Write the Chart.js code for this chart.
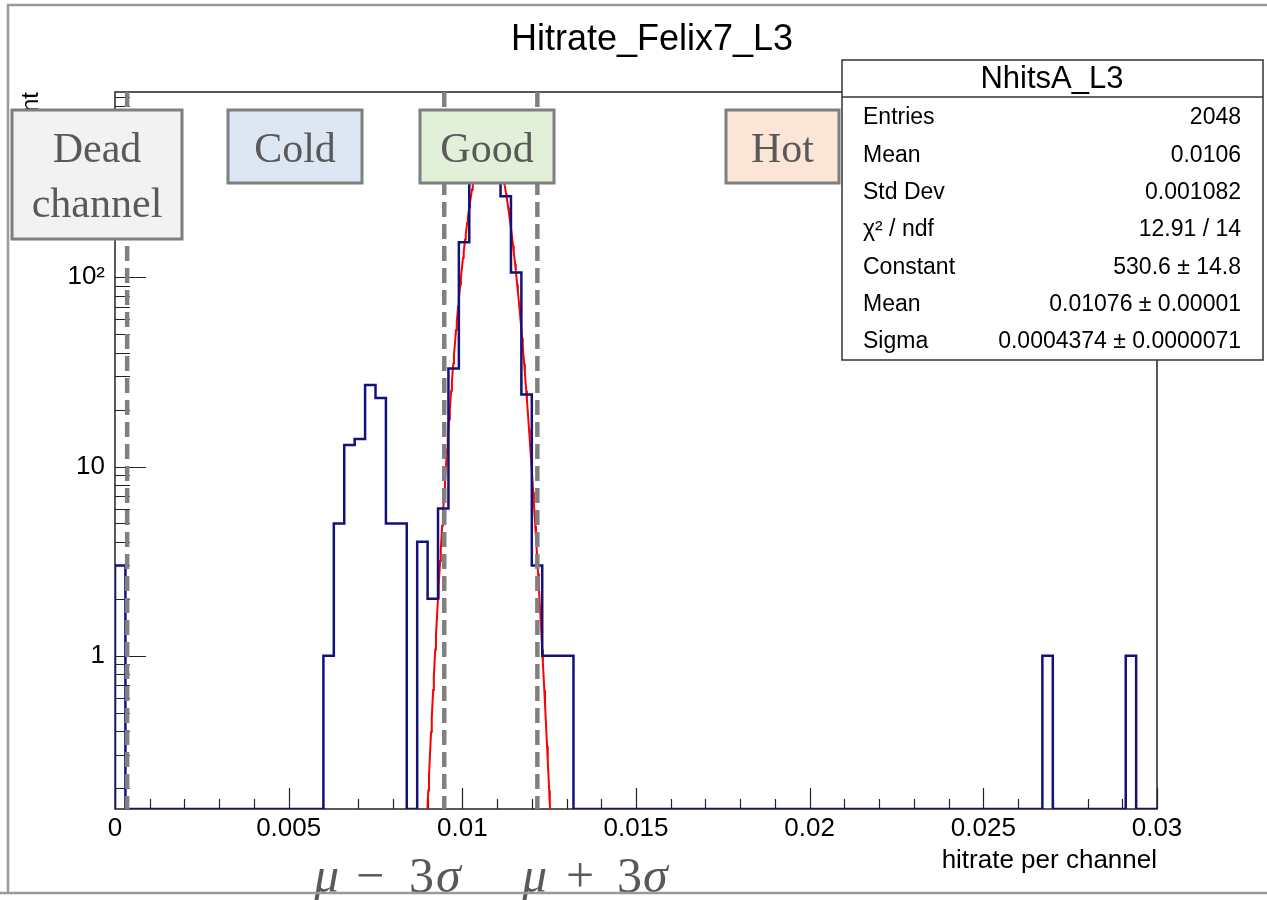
<!DOCTYPE html>
<html>
<head>
<meta charset="utf-8">
<title>Hitrate_Felix7_L3</title>
<script src="https://cdn.jsdelivr.net/npm/chart.js@4/dist/chart.umd.min.js"></script>
<style>
  html, body { margin: 0; padding: 0; background: #fff; }
  #wrap { position: relative; width: 1267px; height: 900px; }
</style>
</head>
<body>
<div id="wrap"><canvas id="hitChart"></canvas></div>
<script>
// histogram: 100 bins of hitrate per channel, 0 .. 0.03
const binLow = 0;
const binHigh = 0.03;
const binCounts = [
  3, 0, 0, 0, 0, 0, 0, 0, 0, 0,
  0, 0, 0, 0, 0, 0, 0, 0, 0, 0,
  1, 5, 13, 14, 27, 23, 5, 5, 0, 4,
  2, 6, 33, 153, 345, 516, 487, 268, 106, 24,
  3, 1, 1, 1, 0, 0, 0, 0, 0, 0,
  0, 0, 0, 0, 0, 0, 0, 0, 0, 0,
  0, 0, 0, 0, 0, 0, 0, 0, 0, 0,
  0, 0, 0, 0, 0, 0, 0, 0, 0, 0,
  0, 0, 0, 0, 0, 0, 0, 0, 0, 1,
  0, 0, 0, 0, 0, 0, 0, 1, 0, 0
];

// gaus fit result
const fitConstant = 530.6;
const fitMean = 0.01076;
const fitSigma = 0.0004374;
const fitFrom = 0.0085;
const fitTo = 0.0131;

// dead channel cut and mu -/+ 3 sigma cuts
const cutLines = [0.00035, 0.00948, 0.01216];

const xTickValues = [0, 0.005, 0.01, 0.015, 0.02, 0.025, 0.03];
const xTickLabels = ['0', '0.005', '0.01', '0.015', '0.02', '0.025', '0.03'];
const yTickValues = [1, 10, 100];
const yTickLabels = ['1', '10', '10\u00B2'];
const yFloor = 0.155;
const yCeil = 953;

const statsTitle = 'NhitsA_L3';
const statsLabels = ['Entries', 'Mean', 'Std Dev', '\u03C7\u00B2 / ndf', 'Constant', 'Mean', 'Sigma'];
const statsValues = ['2048', '0.0106', '0.001082', '12.91 / 14', '530.6 \u00B1 14.8',
  '0.01076 \u00B1 0.00001', '0.0004374 \u00B1 0.0000071'];

const categoryNames = [['Dead', 'channel'], ['Cold'], ['Good'], ['Hot']];
const categoryFills = ['#f2f2f2', '#dde7f3', '#e2efd9', '#fbe5d7'];
// box rectangles [x, y, w, h]
const categoryBoxes = [[12, 110, 170, 129], [228, 110, 134, 73], [420, 110, 134, 73], [726, 110, 113, 73]];

const binWidth = (binHigh - binLow) / binCounts.length;

// outline points: bin left edges, empty bins sit on the axis floor
const histPoints = [{ x: binLow, y: yFloor }];
binCounts.forEach((c, i) => {
  histPoints.push({ x: binLow + i * binWidth, y: c > 0 ? c : yFloor });
});
histPoints.push({ x: binHigh, y: yFloor });

const fitPoints = [];
for (let i = 0; i <= 230; i++) {
  const x = fitFrom + (fitTo - fitFrom) * i / 230;
  const z = (x - fitMean) / fitSigma;
  fitPoints.push({ x: x, y: fitConstant * Math.exp(-0.5 * z * z) });
}

const sans = 'Liberation Sans, Arial, sans-serif';
const serif = 'Liberation Serif, Times New Roman, serif';

const rootPad = {
  id: 'rootPad',
  beforeDatasetsDraw(chart) {
    const ctx = chart.ctx, a = chart.chartArea;
    const xs = chart.scales.x, ys = chart.scales.y;
    ctx.save();
    ctx.strokeStyle = '#222';
    ctx.lineWidth = 1.5;
    ctx.strokeRect(a.left, a.top, a.right - a.left, a.bottom - a.top);

    ctx.lineWidth = 1.2;
    ctx.beginPath();
    for (let i = 0; i <= 30; i++) {
      const px = Math.round(xs.getPixelForValue(i * 0.001)) + 0.5;
      const len = i % 5 === 0 ? 21 : 10;
      ctx.moveTo(px, a.bottom);
      ctx.lineTo(px, a.bottom - len);
    }
    [0.1, 1, 10, 100].forEach(d => {
      for (let k = 1; k <= 9; k++) {
        const v = k * d;
        if (v < yFloor || v > yCeil) continue;
        const py = Math.round(ys.getPixelForValue(v)) + 0.5;
        ctx.moveTo(a.left, py);
        ctx.lineTo(a.left + (k === 1 ? 31 : 15), py);
      }
    });
    ctx.stroke();
    ctx.restore();
  },
  afterDraw(chart) {
    const ctx = chart.ctx, a = chart.chartArea;
    const xs = chart.scales.x;
    ctx.save();

    // cut lines
    ctx.strokeStyle = '#808080';
    ctx.lineWidth = 4.5;
    ctx.setLineDash([15, 7]);
    cutLines.forEach(v => {
      const px = xs.getPixelForValue(v);
      ctx.beginPath();
      ctx.moveTo(px, a.top);
      ctx.lineTo(px, a.bottom);
      ctx.stroke();
    });
    ctx.setLineDash([]);

    // y title, mostly hidden by the dead channel box
    ctx.save();
    ctx.translate(38, 92);
    ctx.rotate(-Math.PI / 2);
    ctx.fillStyle = '#000';
    ctx.font = '24px ' + sans;
    ctx.textAlign = 'right';
    ctx.textBaseline = 'alphabetic';
    ctx.fillText('count', 0, 0);
    ctx.restore();

    // category boxes
    categoryBoxes.forEach((b, i) => {
      ctx.fillStyle = categoryFills[i];
      ctx.fillRect(b[0], b[1], b[2], b[3]);
      ctx.strokeStyle = '#7f7f7f';
      ctx.lineWidth = 3;
      ctx.strokeRect(b[0], b[1], b[2], b[3]);
      ctx.fillStyle = '#595959';
      ctx.font = '42px ' + serif;
      ctx.textAlign = 'center';
      ctx.textBaseline = 'alphabetic';
      categoryNames[i].forEach((t, j) => {
        ctx.fillText(t, b[0] + b[2] / 2, 162 + j * 55);
      });
    });

    // stats box
    ctx.fillStyle = '#fff';
    ctx.fillRect(842, 60, 421, 300);
    ctx.strokeStyle = '#333';
    ctx.lineWidth = 1.5;
    ctx.strokeRect(842, 60, 421, 300);
    ctx.beginPath();
    ctx.moveTo(842, 97);
    ctx.lineTo(1263, 97);
    ctx.stroke();
    ctx.fillStyle = '#000';
    ctx.textBaseline = 'middle';
    ctx.font = '31px ' + sans;
    ctx.textAlign = 'center';
    ctx.fillText(statsTitle, 1052, 79);
    ctx.font = '23px ' + sans;
    statsLabels.forEach((t, i) => {
      const y = 118 + i * 37.3;
      ctx.textAlign = 'left';
      ctx.fillText(t, 863, y);
      ctx.textAlign = 'right';
      ctx.fillText(statsValues[i], 1241, y);
    });

    // titles
    ctx.textBaseline = 'alphabetic';
    ctx.textAlign = 'center';
    ctx.font = '36px ' + sans;
    ctx.fillText('Hitrate_Felix7_L3', 652, 50);
    ctx.textAlign = 'right';
    ctx.font = '26px ' + sans;
    ctx.fillText('hitrate per channel', a.right, 868);

    // mu -/+ 3 sigma
    ctx.fillStyle = '#595959';
    ctx.textAlign = 'left';
    const pieces = [
      ['\u03BC', true, 314], ['\u2212', false, 356], ['3', false, 409], ['\u03C3', true, 436],
      ['\u03BC', true, 522], ['+', false, 566], ['3', false, 617], ['\u03C3', true, 643]
    ];
    pieces.forEach(p => {
      ctx.font = (p[1] ? 'italic ' : '') + '50px ' + serif;
      ctx.fillText(p[0], p[2], 892);
    });

    // outer pad border
    ctx.strokeStyle = '#9a9a9a';
    ctx.lineWidth = 2.5;
    ctx.beginPath();
    ctx.moveTo(1267, 5);
    ctx.lineTo(8, 5);
    ctx.lineTo(8, 893);
    ctx.moveTo(0, 893);
    ctx.lineTo(1267, 893);
    ctx.stroke();
    ctx.restore();
  }
};

const ctx = document.getElementById('hitChart').getContext('2d');
const chart = new Chart(ctx, {
  type: 'line',
  data: {
    datasets: [{
      label: 'NhitsA_L3',
      data: histPoints,
      stepped: true,
      borderColor: '#12127a',
      borderWidth: 2.5,
      pointRadius: 0,
      fill: false
    }, {
      label: 'gaus',
      data: fitPoints,
      borderColor: '#ff0000',
      borderWidth: 2,
      pointRadius: 0,
      fill: false,
      tension: 0
    }]
  },
  options: {
    responsive: true,
    maintainAspectRatio: false,
    animation: false,
    layout: { padding: { left: 0, right: 110, top: 92, bottom: 0 } },
    plugins: { legend: { display: false }, tooltip: { enabled: false } },
    scales: {
      x: {
        type: 'linear', min: binLow, max: binHigh,
        grid: { display: false, drawTicks: false },
        border: { display: false },
        afterBuildTicks: s => { s.ticks = xTickValues.map(v => ({ value: v })); },
        afterFit: s => { s.height = 91; },
        ticks: {
          padding: 4, color: '#000', maxRotation: 0, autoSkip: false,
          font: { family: sans, size: 26 },
          callback: (v, i) => xTickLabels[i]
        }
      },
      y: {
        type: 'logarithmic', min: yFloor, max: yCeil,
        grid: { display: false, drawTicks: false },
        border: { display: false },
        afterBuildTicks: s => { s.ticks = yTickValues.map(v => ({ value: v })); },
        afterFit: s => { s.width = 115; },
        ticks: {
          padding: 10, color: '#000', autoSkip: false,
          font: { family: sans, size: 26 },
          callback: (v, i) => yTickLabels[i]
        }
      }
    }
  },
  plugins: [rootPad]
});
</script>
</body>
</html>
